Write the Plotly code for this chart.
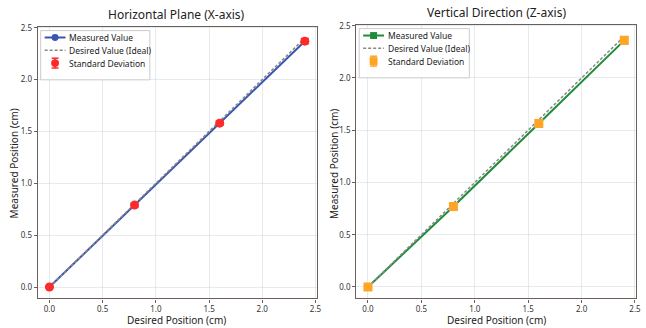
import plotly.graph_objects as go

desired = [0.0, 0.8, 1.6, 2.4]
measured_x = [0.0, 0.79, 1.58, 2.37]
std_x = [0.01, 0.02, 0.02, 0.025]
measured_z = [0.0, 0.77, 1.565, 2.36]
std_z = [0.01, 0.03, 0.03, 0.035]

titles = ["Horizontal Plane (X-axis)", "Vertical Direction (Z-axis)"]
xlabel = "Desired Position (cm)"
ylabel = "Measured Position (cm)"
legend_labels = ["Measured Value", "Desired Value (Ideal)", "Standard Deviation"]
font = "Noto Sans, Open Sans, DejaVu Sans, sans-serif"

W, H = 646, 328
def px(x):
    return x / W
def py(y):
    return 1 - y / H

BLUE, GREEN, RED, ORANGE, GRAY = "#3a55ad", "#1e8c3a", "#ff2a2a", "#ffa526", "#888888"

fig = go.Figure()

def add_panel(n, meas, std, line_color, symbol, err_color, err_symbol):
    xa = "x" if n == 1 else "x2"
    ya = "y" if n == 1 else "y2"
    fig.add_trace(go.Scatter(x=desired, y=meas, mode="lines+markers", name=legend_labels[0],
                             line=dict(color=line_color, width=2),
                             marker=dict(color=line_color, symbol=symbol, size=7),
                             xaxis=xa, yaxis=ya, showlegend=False))
    fig.add_trace(go.Scatter(x=desired, y=desired, mode="lines", name=legend_labels[1],
                             line=dict(color=GRAY, width=1.5, dash="3px,2px"),
                             xaxis=xa, yaxis=ya, showlegend=False))
    fig.add_trace(go.Scatter(x=desired, y=meas, mode="markers", name=legend_labels[2],
                             marker=dict(color=err_color, symbol=err_symbol, size=9),
                             error_y=dict(type="data", array=std, color=err_color, thickness=1.5, width=4),
                             xaxis=xa, yaxis=ya, showlegend=False))

add_panel(1, measured_x, std_x, BLUE, "circle", RED, "circle")
add_panel(2, measured_z, std_z, GREEN, "square", ORANGE, "square")

axis_common = dict(range=[-0.11, 2.51], tickvals=[0, 0.5, 1.0, 1.5, 2.0, 2.5],
                   ticktext=["0.0", "0.5", "1.0", "1.5", "2.0", "2.5"],
                   showgrid=True, gridcolor="rgba(200,210,220,0.45)", gridwidth=1,
                   zeroline=False, showline=True, linecolor="#6b5f58", linewidth=1.2, mirror=True,
                   ticks="outside", ticklen=3, tickcolor="#6b5f58",
                   tickfont=dict(size=8, color="#333"))

shapes = []
annotations = []

def legend(x0, y0, w, h, rows, line_color, mshape, err_color, eshape):
    shapes.append(dict(type="rect", xref="paper", yref="paper", x0=px(x0), x1=px(x0 + w),
                       y0=py(y0 + h), y1=py(y0), line=dict(color="#cccccc", width=1),
                       fillcolor="rgba(255,255,255,0.9)", layer="above"))
    lx0, lx1 = x0 + 4, x0 + 25
    cx = (lx0 + lx1) / 2
    r = rows[0]
    shapes.append(dict(type="line", xref="paper", yref="paper", x0=px(lx0), x1=px(lx1),
                       y0=py(r), y1=py(r), line=dict(color=line_color, width=2), layer="above"))
    shapes.append(dict(type=mshape, xref="paper", yref="paper", x0=px(cx - 3.5), x1=px(cx + 3.5),
                       y0=py(r + 3.5), y1=py(r - 3.5), line=dict(color=line_color, width=0),
                       fillcolor=line_color, layer="above"))
    r = rows[1]
    shapes.append(dict(type="line", xref="paper", yref="paper", x0=px(lx0), x1=px(lx1),
                       y0=py(r), y1=py(r), line=dict(color=GRAY, width=1.5, dash="3px,2px"), layer="above"))
    r = rows[2]
    shapes.append(dict(type="line", xref="paper", yref="paper", x0=px(cx), x1=px(cx),
                       y0=py(r + 5), y1=py(r - 5), line=dict(color=err_color, width=1.5), layer="above"))
    for dy in (-5, 5):
        shapes.append(dict(type="line", xref="paper", yref="paper", x0=px(cx - 3.5), x1=px(cx + 3.5),
                           y0=py(r + dy), y1=py(r + dy), line=dict(color=err_color, width=1.5), layer="above"))
    shapes.append(dict(type=eshape, xref="paper", yref="paper", x0=px(cx - 4), x1=px(cx + 4),
                       y0=py(r + 4), y1=py(r - 4), line=dict(color=err_color, width=0),
                       fillcolor=err_color, layer="above"))
    for lab, r in zip(legend_labels, rows):
        annotations.append(dict(text=lab, x=px(lx1 + 3), y=py(r), xref="paper", yref="paper",
                                xanchor="left", yanchor="middle", showarrow=False, borderpad=0,
                                font=dict(size=8.5, color="#222")))

legend(41, 26, 110, 50, [33, 46, 59], BLUE, "circle", RED, "circle")
legend(362, 24, 111, 50, [31, 44, 57], GREEN, "rect", ORANGE, "rect")

annotations += [
    dict(text=titles[0], x=px(178), y=py(20), xref="paper", yref="paper", xanchor="center",
         yanchor="bottom", showarrow=False, font=dict(size=12, color="#222")),
    dict(text=titles[1], x=px(500), y=py(18), xref="paper", yref="paper", xanchor="center",
         yanchor="bottom", showarrow=False, font=dict(size=12, color="#222")),
    dict(text=xlabel, x=px(178), y=py(328.5), xref="paper", yref="paper", xanchor="center",
         yanchor="bottom", showarrow=False, borderpad=0, font=dict(size=10, color="#222")),
    dict(text=xlabel, x=px(500), y=py(328.5), xref="paper", yref="paper", xanchor="center",
         yanchor="bottom", showarrow=False, borderpad=0, font=dict(size=10, color="#222")),
    dict(text=ylabel, x=px(14), y=py(161), xref="paper", yref="paper", xanchor="center",
         yanchor="middle", textangle=-90, showarrow=False, font=dict(size=10, color="#222")),
    dict(text=ylabel, x=px(336), y=py(161), xref="paper", yref="paper", xanchor="center",
         yanchor="middle", textangle=-90, showarrow=False, font=dict(size=10, color="#222")),
]

fig.update_layout(
    width=W, height=H, margin=dict(l=0, r=0, t=0, b=0),
    paper_bgcolor="white", plot_bgcolor="white",
    font=dict(family=font, color="#222"),
    showlegend=False,
    xaxis=dict(axis_common, domain=[px(38), px(319)], anchor="y"),
    yaxis=dict(axis_common, domain=[py(298), py(22)], anchor="x"),
    xaxis2=dict(axis_common, domain=[px(359), px(641)], anchor="y2"),
    yaxis2=dict(axis_common, domain=[py(298), py(20)], anchor="x2"),
    shapes=shapes,
    annotations=annotations,
)

fig.write_html("out.html")
